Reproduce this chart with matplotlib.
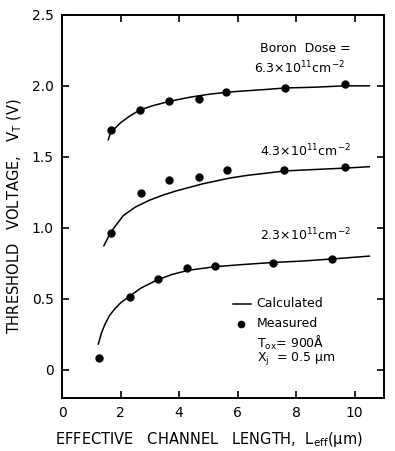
import matplotlib
matplotlib.use("Agg")
import matplotlib.pyplot as plt

# Measured points
meas_63_x = [1.67, 2.67, 3.66, 4.69, 5.62, 7.63, 9.66]
meas_63_y = [1.69, 1.83, 1.89, 1.91, 1.955, 1.985, 2.01]
meas_43_x = [1.67, 2.70, 3.66, 4.68, 5.65, 7.59, 9.66]
meas_43_y = [0.96, 1.246, 1.338, 1.357, 1.406, 1.408, 1.43]
meas_23_x = [1.25, 2.31, 3.27, 4.28, 5.23, 7.21, 9.24]
meas_23_y = [0.08, 0.51, 0.636, 0.713, 0.727, 0.748, 0.78]

# Calculated curves
calc_63_x = [1.58, 1.66, 2.0, 2.3, 2.66, 3.1, 3.66, 4.37, 5.0, 5.62, 6.3, 7.0, 7.63, 8.6, 9.66, 10.5]
calc_63_y = [1.62, 1.67, 1.74, 1.785, 1.83, 1.86, 1.89, 1.92, 1.94, 1.955, 1.965, 1.975, 1.985, 1.99, 2.0, 2.0]
calc_43_x = [1.43, 1.66, 2.09, 2.5, 3.0, 3.45, 3.91, 4.82, 5.73, 6.36, 7.0, 7.6, 8.6, 9.66, 10.5]
calc_43_y = [0.873, 0.967, 1.085, 1.145, 1.195, 1.23, 1.26, 1.31, 1.35, 1.37, 1.385, 1.40, 1.41, 1.42, 1.43]
calc_23_x = [1.24, 1.35, 1.47, 1.62, 1.81, 2.0, 2.26, 2.7, 3.23, 3.75, 4.31, 5.22, 6.13, 7.2, 8.2, 9.24, 10.5]
calc_23_y = [0.18, 0.26, 0.32, 0.38, 0.43, 0.47, 0.51, 0.575, 0.63, 0.67, 0.70, 0.725, 0.74, 0.755, 0.765, 0.78, 0.80]

xticks = [0, 2, 4, 6, 8, 10]
yticks = [0, 0.5, 1.0, 1.5, 2.0, 2.5]
yticklabels = ["0", "0.5", "1.0", "1.5", "2.0", "2.5"]

plt.rcParams['font.family'] = ['DejaVu Sans']
fig = plt.figure(figsize=(3.95, 4.51), dpi=100)
ax = fig.add_axes([0.157, 0.1175, 0.815, 0.8495])

for cx, cy in [(calc_63_x, calc_63_y), (calc_43_x, calc_43_y), (calc_23_x, calc_23_y)]:
    ax.plot(cx, cy, color='black', lw=1.1)
for mx, my in [(meas_63_x, meas_63_y), (meas_43_x, meas_43_y), (meas_23_x, meas_23_y)]:
    ax.plot(mx, my, 'o', color='black', ms=5, mec='black')

ax.set_xlim(0, 11)
ax.set_ylim(-0.2, 2.5)
ax.set_xticks(xticks)
ax.set_yticks(yticks)
ax.set_yticklabels(yticklabels)
ax.tick_params(direction='in', top=True, right=True, length=5, width=1.2, labelsize=10, pad=6)
for s in ax.spines.values():
    s.set_linewidth(1.4)

ax.text(0.53, 0.026, r"EFFECTIVE   CHANNEL   LENGTH,  L$_{\rm eff}$(μm)", fontsize=10.5,
        ha='center', va='center', transform=fig.transFigure)
ax.text(0.038, 0.522, r"THRESHOLD   VOLTAGE,   V$_{\rm T}$ (V)", fontsize=10.5, rotation=90,
        ha='center', va='center', transform=fig.transFigure)

fs = 9
ax.text(6.75, 2.265, "Boron  Dose =", fontsize=fs, ha='left', va='center')
ax.text(6.55, 2.125, r"6.3$\times$10$^{11}$cm$^{-2}$", fontsize=fs, ha='left', va='center')
ax.text(6.75, 1.54, r"4.3$\times$10$^{11}$cm$^{-2}$", fontsize=fs, ha='left', va='center')
ax.text(6.75, 0.95, r"2.3$\times$10$^{11}$cm$^{-2}$", fontsize=fs, ha='left', va='center')

# legend-like annotation
ax.plot([5.85, 6.45], [0.465, 0.465], color='black', lw=1.1)
ax.text(6.65, 0.465, "Calculated", fontsize=fs, ha='left', va='center')
ax.plot([6.1], [0.325], 'o', color='black', ms=4.5)
ax.text(6.65, 0.325, "Measured", fontsize=fs, ha='left', va='center')
ax.text(6.65, 0.19, r"T$_{\rm ox}$= 900$\rm\AA$", fontsize=fs, ha='left', va='center')
ax.text(6.65, 0.075, r"X$_{\rm j}$  = 0.5 μm", fontsize=fs, ha='left', va='center')

fig.savefig("out.png", dpi=100)
